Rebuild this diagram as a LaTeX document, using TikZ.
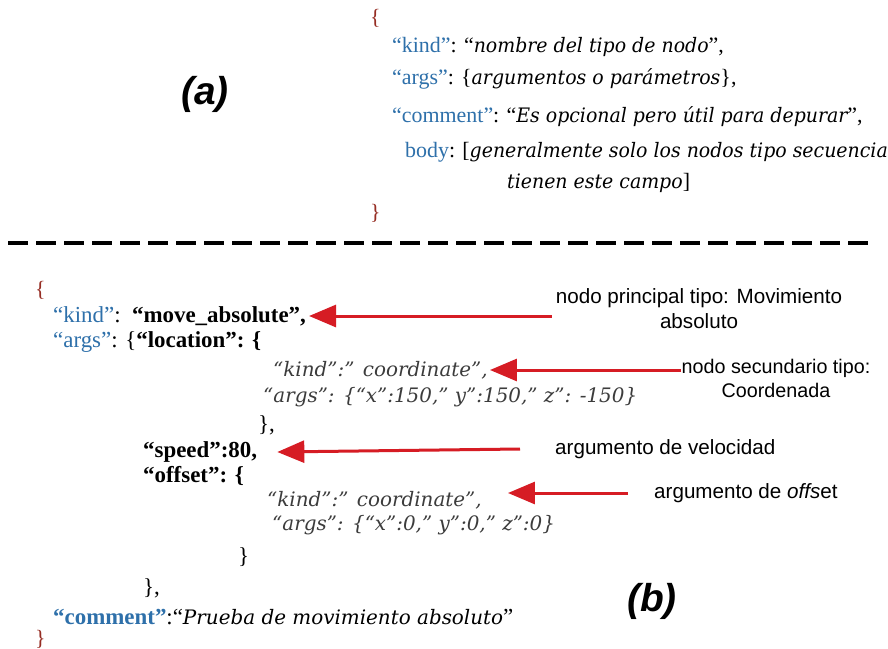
\documentclass[tikz,border=0pt]{standalone}
\usepackage{fontspec}
\setmainfont{Liberation Serif}
\newfontfamily\annfont{Liberation Sans}
\newfontfamily\valfont{DejaVu Serif}
\newfontfamily\valnarrow{DejaVu Serif}[FakeStretch=0.95]
\usetikzlibrary{arrows.meta}

\definecolor{keyblue}{RGB}{46,112,170}
\definecolor{bracered}{RGB}{150,45,35}
\definecolor{arrowred}{RGB}{214,28,36}
\definecolor{valgray}{RGB}{60,60,60}

\newcommand{\kw}[1]{\textcolor{keyblue}{#1}}
\newcommand{\iv}[1]{{\valfont\itshape\fontsize{20}{24}\selectfont #1}}
\newcommand{\ivn}[1]{{\valnarrow\itshape\fontsize{20}{24}\selectfont #1}}

\tikzset{
  code/.style={anchor=west, inner sep=0pt, font=\fontsize{22}{26}\selectfont},
  codeb/.style={anchor=west, inner sep=0pt, font=\fontsize{23}{26}\selectfont},
  brace/.style={code, text=bracered},
  ival/.style={code, text=valgray},
  ann/.style={anchor=west, inner sep=0pt, font=\annfont\fontsize{20.7}{25}\selectfont, align=center},
  panellabel/.style={inner sep=0pt, font=\annfont\bfseries\itshape\fontsize{39}{40}\selectfont},
  pointer/.style={draw=arrowred, line width=3bp, -{Triangle[length=27bp,width=22bp]}},
  divider/.style={line width=3.2bp, dash pattern=on 20bp off 8bp}
}

\begin{document}
\begin{tikzpicture}[x=1bp,y=-1bp]
\useasboundingbox[fill=white] (0,0) rectangle (888,649);

% (a) generic node layout
\node[panellabel] (la) at (205,94) {(a)};
\node[brace] (ta0) at (370,18) {\{};
\node[code] (ta1) at (392,47) {\kw{“kind”}: “\ivn{nombre del tipo de nodo}”,};
\node[code] (ta2) at (392,79) {\kw{“args”}: \{\ivn{argumentos o parámetros}\},};
\node[code] (ta3) at (392,117) {\kw{“comment”}: “\ivn{Es opcional pero útil para depurar}”,};
\node[code] (ta4) at (405,152) {\kw{body}: [\ivn{generalmente solo los nodos tipo secuencia}};
\node[code] (ta5) at (507,183) {\ivn{tienen este campo}]};
\node[brace] (ta6) at (370,213) {\}};

% separator
\draw[divider] (8,243) -- (872,243);

% (b) move_absolute example
\node[brace] (b0) at (35,290) {\{};
\node[codeb] (b1) at (53,316) {\kw{“kind”}:\ \ \textbf{“move\_absolute”,}};
\node[codeb] (b2) at (53,342) {\kw{“args”}: \{\textbf{“location”: \{}};
\node[ival] (b3) at (273,370) {\iv{“kind”:” coordinate”,}};
\node[ival] (b4) at (263,397) {\iv{“args”: \{“x”:150,” y”:150,” z”: -150\}}};
\node[codeb] (b5) at (258,425) {\},};
\node[codeb] (b6) at (143,452) {\textbf{“speed”:80,}};
\node[codeb] (b7) at (143,476) {\textbf{“offset”: \{}};
\node[ival] (b8) at (267,500) {\iv{“kind”:” coordinate”,}};
\node[ival] (b9) at (272,525) {\iv{“args”: \{“x”:0,” y”:0,” z”:0\}}};
\node[codeb] (b10) at (238,557) {\}};
\node[codeb] (b11) at (143,588) {\},};
\node[codeb] (b12) at (53,617) {\kw{\textbf{“comment”}}:“\iv{Prueba de movimiento absoluto}”};
\node[brace] (b13) at (35,639) {\}};
\node[panellabel] (lb) at (652,601) {(b)};

% annotations
\node[ann, anchor=center] (n1) at (699,309) {nodo principal tipo: Movimiento\\absoluto};
\node[ann, anchor=center, font=\annfont\fontsize{19.8}{24}\selectfont] (n2) at (776,378) {nodo secundario tipo:\\Coordenada};
\node[ann] (n3) at (555,449) {argumento de velocidad};
\node[ann] (n4) at (654,493) {argumento de \textit{offs}et};

% pointers
\draw[pointer] ([xshift=-4bp]n1.west |- b1.east) -- ([xshift=3bp]b1.east);
\draw[pointer] (n2.west |- b3.east) -- ([xshift=2bp]b3.east);
\draw[pointer] ([xshift=-35bp]n3.west) -- ([xshift=20bp]b6.east);
\draw[pointer] ([xshift=-26bp]n4.west) -- ([xshift=26bp]b8.east |- n4.west);
\end{tikzpicture}
\end{document}
